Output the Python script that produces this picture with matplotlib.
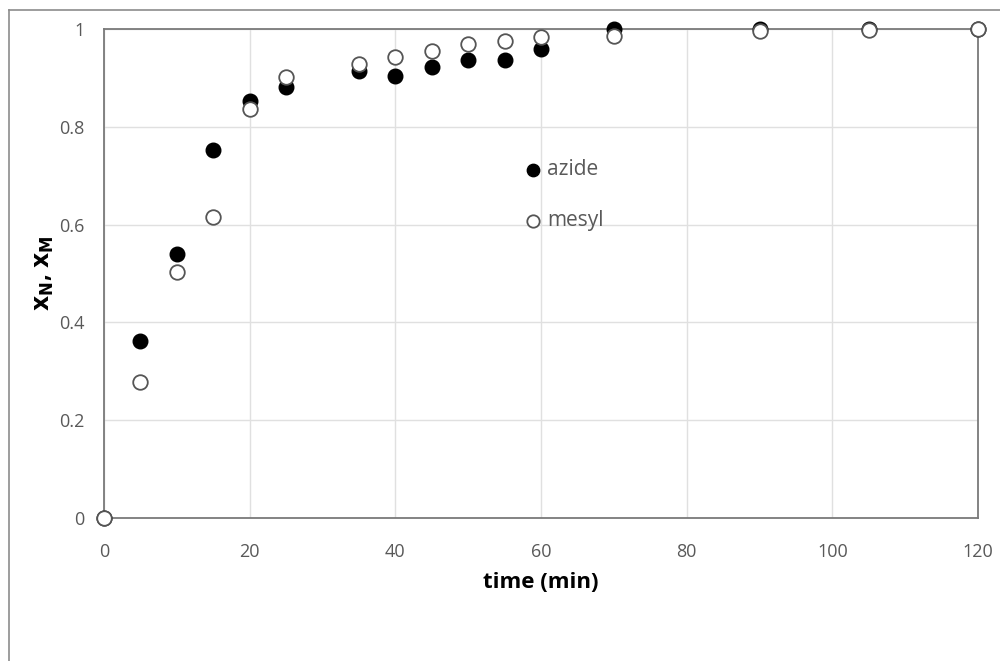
import matplotlib
matplotlib.use("Agg")
import matplotlib.pyplot as plt
from matplotlib.lines import Line2D

time_azide = [0, 5, 10, 15, 20, 25, 35, 40, 45, 50, 55, 60, 70, 90, 105, 120]
x_azide = [0.0, 0.362, 0.540, 0.753, 0.853, 0.881, 0.914, 0.904, 0.922, 0.937, 0.937, 0.959, 1.0, 1.0, 1.0, 1.0]
time_mesyl = [0, 5, 10, 15, 20, 25, 35, 40, 45, 50, 55, 60, 70, 90, 105, 120]
x_mesyl = [0.0, 0.278, 0.503, 0.616, 0.836, 0.902, 0.928, 0.943, 0.955, 0.969, 0.975, 0.984, 0.986, 0.996, 0.998, 1.0]
xticks = [0, 20, 40, 60, 80, 100, 120]
yticks = [0, 0.2, 0.4, 0.6, 0.8, 1.0]
yticklabels = ["0", "0.2", "0.4", "0.6", "0.8", "1"]

plt.rcParams['font.family'] = ['Open Sans', 'DejaVu Sans']

fig = plt.figure(figsize=(10, 6.61), dpi=100)
# outer chart frame (top and left edges visible)
fig.add_artist(Line2D([0.009, 1.0], [1 - 10/661, 1 - 10/661], transform=fig.transFigure, color='#8c8c8c', lw=1.2))
fig.add_artist(Line2D([0.009, 0.009], [0.0, 1 - 10/661], transform=fig.transFigure, color='#8c8c8c', lw=1.2))

ax = fig.add_axes([0.104, 143/661, 0.874, 489/661])
ax.set_xlim(0, 120)
ax.set_ylim(0, 1)
ax.set_xticks(xticks)
ax.set_yticks(yticks)
ax.set_yticklabels(yticklabels)
ax.grid(True, color='#e0e0e0', lw=1)
ax.set_axisbelow(True)
for s in ax.spines.values():
    s.set_color('#7a7a7a')
    s.set_linewidth(1.3)
ax.tick_params(axis='x', length=0, colors='#595959', labelsize=13, pad=18)
ax.tick_params(axis='y', length=0, colors='#595959', labelsize=13, pad=14)

ax.scatter(time_azide, x_azide, s=110, color='black', edgecolors='black', zorder=3, clip_on=False, label='azide')
ax.scatter(time_mesyl, x_mesyl, s=110, facecolors='white', edgecolors='#555555', linewidths=1.3, zorder=4, clip_on=False, label='mesyl')

ax.set_xlabel('time (min)', fontsize=16, fontweight='bold', labelpad=8)
ax.set_ylabel(r'$\mathbf{x_N}$, $\mathbf{x_M}$', fontsize=17, fontweight='bold', labelpad=2)

leg = ax.legend(loc='upper left', bbox_to_anchor=(0.445, 0.772), frameon=False, fontsize=15,
                handletextpad=-0.3, labelspacing=1.45, markerscale=0.85)
for t in leg.get_texts():
    t.set_color('#595959')

fig.savefig('out.png', dpi=100, facecolor='white')
